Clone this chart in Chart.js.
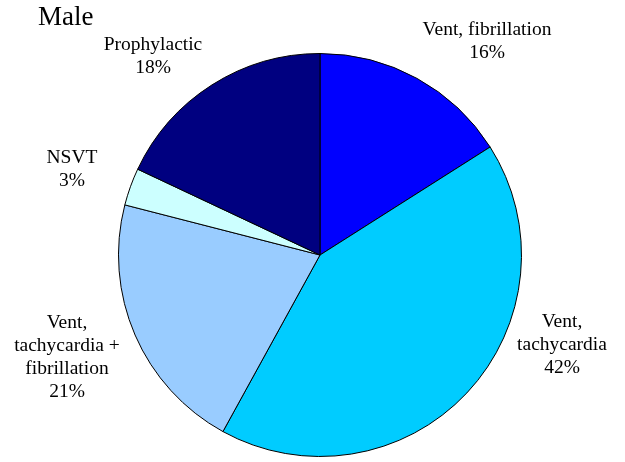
<!DOCTYPE html>
<html>
<head>
<meta charset="utf-8">
<script src="https://cdn.jsdelivr.net/npm/chart.js@4"></script>
<style>
  html, body { margin: 0; padding: 0; background: #fff; }
  #wrap { width: 625px; height: 462px; position: relative; }
</style>
</head>
<body>
<div id="wrap"><canvas id="c" width="625" height="462"></canvas></div>
<script>
const categories = ["Vent, fibrillation", "Vent, tachycardia", "Vent, tachycardia + fibrillation", "NSVT", "Prophylactic"];
const labelLines = [["Vent, fibrillation"], ["Vent,", "tachycardia"], ["Vent,", "tachycardia +", "fibrillation"], ["NSVT"], ["Prophylactic"]];
const values = [16, 42, 21, 3, 18];
const colors = ["#0000FF", "#00CCFF", "#99CCFF", "#CCFFFF", "#000080"];
const chartTitle = "Male";

// label anchor positions (center x, first-line y) — layout, not data
const labelPos = [[487, 30], [562, 322], [67, 323], [72, 158], [153, 45]];

const labelPlugin = {
  id: 'pieLabels',
  afterDraw(chart) {
    const ctx = chart.ctx;
    ctx.save();
    ctx.fillStyle = '#000';
    ctx.textAlign = 'center';
    ctx.textBaseline = 'middle';
    ctx.font = '19.5px "Liberation Serif", serif';
    const lh = 23;
    labelLines.forEach((lines, i) => {
      const [x, y] = labelPos[i];
      const all = lines.concat([values[i] + '%']);
      all.forEach((t, k) => ctx.fillText(t, x, y + k * lh));
    });
    ctx.textAlign = 'left';
    ctx.textBaseline = 'alphabetic';
    ctx.font = '27px "Liberation Serif", serif';
    ctx.fillText(chartTitle, 38, 25);
    ctx.restore();
  }
};

new Chart(document.getElementById('c'), {
  type: 'pie',
  data: {
    labels: categories,
    datasets: [{
      data: values,
      backgroundColor: colors,
      borderColor: '#000',
      borderWidth: 1
    }]
  },
  options: {
    responsive: false,
    animation: false,
    layout: { padding: { left: 118, right: 103, top: 53, bottom: 5 } },
    plugins: {
      legend: { display: false },
      tooltip: { enabled: false },
      title: { display: false }
    }
  },
  plugins: [labelPlugin]
});
</script>
</body>
</html>
